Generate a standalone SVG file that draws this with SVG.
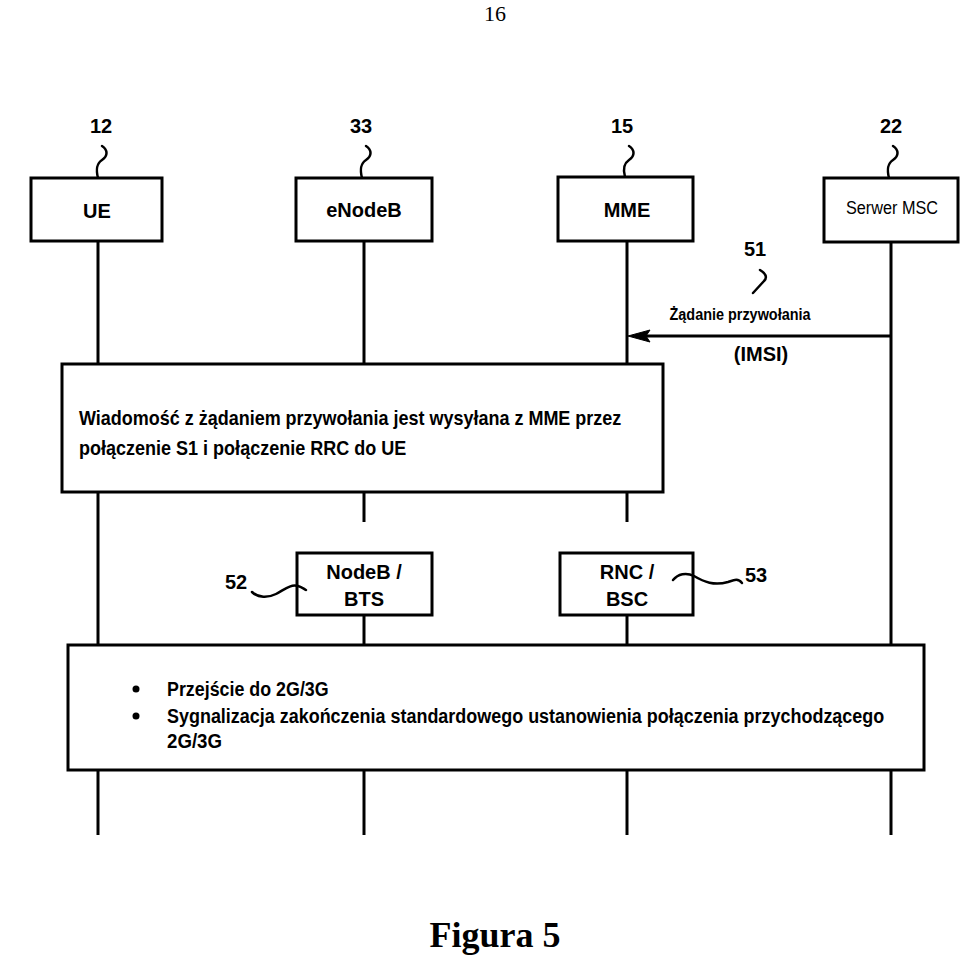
<svg xmlns="http://www.w3.org/2000/svg" width="960" height="956" viewBox="0 0 960 956">
<defs>
<style>
.box{fill:#fff;stroke:#000;stroke-width:3}
.life{stroke:#000;stroke-width:3;fill:none}
.sq{stroke:#000;stroke-width:2.5;fill:none;stroke-linecap:round}
.num{font-family:"Liberation Sans",Arial,sans-serif;font-weight:bold;font-size:20px;text-anchor:middle;fill:#000}
.lbl{font-family:"Liberation Sans",Arial,sans-serif;font-weight:bold;font-size:20px;text-anchor:middle;fill:#000}
.note{font-family:"Liberation Sans",Arial,sans-serif;font-weight:bold;font-size:20px;fill:#000}
.note2{font-family:"Liberation Sans",Arial,sans-serif;font-weight:bold;font-size:21px;fill:#000}
.serif{font-family:"Liberation Serif","Times New Roman",serif;fill:#000;text-anchor:middle}
</style>
</defs>

<text class="serif" x="495" y="21" font-size="22">16</text>

<g id="connectors">
<line class="life" x1="98" y1="241" x2="98" y2="835"/>
<line class="life" x1="364" y1="241" x2="364" y2="522"/>
<line class="life" x1="364" y1="615" x2="364" y2="835"/>
<line class="life" x1="627" y1="241" x2="627" y2="522"/>
<line class="life" x1="627" y1="615" x2="627" y2="835"/>
<line class="life" x1="891" y1="242" x2="891" y2="835"/>
<g id="msg51">
<line x1="891" y1="336" x2="640" y2="336" stroke="#000" stroke-width="3"/>
<path d="M628,336 L650,330 L646,336 L650,342 Z" fill="#000" stroke="#000" stroke-width="1"/>
<text x="740" y="320" font-family="'Liberation Sans',Arial,sans-serif" font-size="16" font-weight="bold" textLength="141" lengthAdjust="spacingAndGlyphs" text-anchor="middle">Żądanie przywołania</text>
<text class="lbl" x="761" y="361" font-size="22">(IMSI)</text>
<text class="num" x="755" y="256">51</text>
<path class="sq" d="M760,270 C765,273 768,277 764,281 L753,293"/>
</g>
</g>

<g id="ue">
<path class="sq" d="M102,146 C108,150 108,156 102,160 C96,164 96,170 98,178"/>
<text class="num" x="101" y="133">12</text>
<rect class="box" x="31" y="178" width="131" height="63"/>
<text class="lbl" x="97" y="218" font-size="21">UE</text>
</g>

<g id="enodeb">
<path class="sq" d="M366,146 C372,150 372,156 366,160 C360,164 360,170 362,178"/>
<text class="num" x="361" y="133">33</text>
<rect class="box" x="296" y="178" width="136" height="63"/>
<text class="lbl" x="364" y="217">eNodeB</text>
</g>

<g id="mme">
<path class="sq" d="M629,146 C635,150 635,156 629,160 C623,164 623,170 625,177"/>
<text class="num" x="622" y="133">15</text>
<rect class="box" x="558" y="177" width="135" height="64"/>
<text class="lbl" x="627" y="217" font-size="21">MME</text>
</g>

<g id="msc">
<path class="sq" d="M893,146 C899,150 899,156 893,160 C887,164 887,170 889,178"/>
<text class="num" x="891" y="133">22</text>
<rect class="box" x="824" y="178" width="134" height="64"/>
<text x="892" y="214" font-family="'Liberation Sans',Arial,sans-serif" font-size="18" text-anchor="middle" textLength="92" lengthAdjust="spacingAndGlyphs">Serwer MSC</text>
</g>

<g id="note1">
<rect class="box" x="62" y="364" width="601" height="128"/>
<g transform="translate(79,0) scale(0.85,1)">
<text class="note" x="0" y="425" textLength="638" lengthAdjust="spacingAndGlyphs">Wiadomość z żądaniem przywołania jest wysyłana z MME przez</text>
<text class="note" x="0" y="455" textLength="385" lengthAdjust="spacingAndGlyphs">połączenie S1 i połączenie RRC do UE</text>
</g>
</g>

<g id="nodeb">
<rect class="box" x="297" y="553" width="135" height="62"/>
<text class="lbl" x="364" y="579" font-size="20">NodeB /</text>
<text class="lbl" x="364" y="606" font-size="20">BTS</text>
<path class="sq" d="M252,592 C258,598 268,598 276,594 C284,590 290,584 298,586 C302,587 304,589 306,590"/>
<text class="num" x="236" y="589">52</text>
</g>

<g id="rnc">
<rect class="box" x="560" y="553" width="133" height="62"/>
<text class="lbl" x="627" y="579" font-size="20">RNC /</text>
<text class="lbl" x="627" y="606" font-size="20">BSC</text>
<path class="sq" d="M673,580 C678,574 686,572 694,576 C704,582 714,586 728,582 C734,580 738,578 742,583"/>
<text class="num" x="756" y="582">53</text>
</g>

<g id="note2">
<rect class="box" x="68" y="645" width="856" height="125"/>
<circle cx="136" cy="689" r="3.5" fill="#000"/>
<circle cx="136" cy="716" r="3.5" fill="#000"/>
<g transform="translate(167,0) scale(0.86,1)">
<text class="note2" x="0" y="696" textLength="188" lengthAdjust="spacingAndGlyphs">Przejście do 2G/3G</text>
<text class="note2" x="0" y="723" textLength="834" lengthAdjust="spacingAndGlyphs">Sygnalizacja zakończenia standardowego ustanowienia połączenia przychodzącego</text>
<text class="note2" x="0" y="748" textLength="64" lengthAdjust="spacingAndGlyphs">2G/3G</text>
</g>
</g>

<text class="serif" x="495" y="947" font-size="36" font-weight="bold">Figura 5</text>
</svg>
